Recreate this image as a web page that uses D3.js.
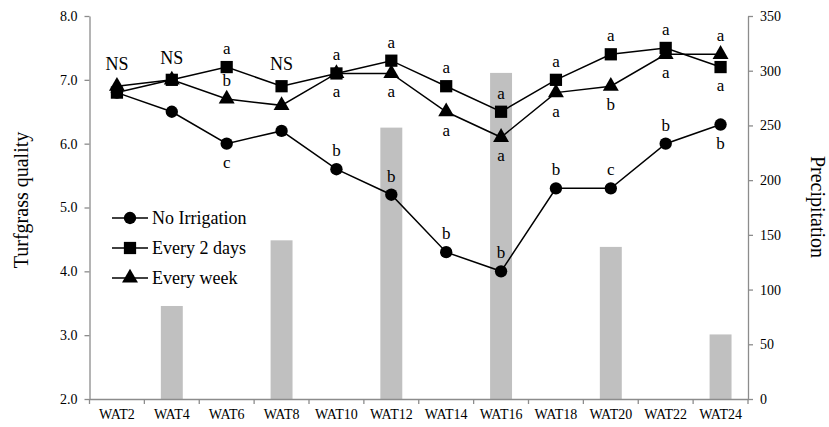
<!DOCTYPE html>
<html>
<head>
<meta charset="utf-8">
<script src="https://cdn.jsdelivr.net/npm/d3@7"></script>
<style>
body { margin: 0; background: #fff; }
svg { display: block; }
</style>
</head>
<body>
<svg id="chart" width="829" height="427" font-family="'Liberation Serif', 'Times New Roman', serif"></svg>
<script>
const categories = ["WAT2","WAT4","WAT6","WAT8","WAT10","WAT12","WAT14","WAT16","WAT18","WAT20","WAT22","WAT24"];
const noIrrigation = [6.8, 6.5, 6.0, 6.2, 5.6, 5.2, 4.3, 4.0, 5.3, 5.3, 6.0, 6.3];
const every2Days   = [6.8, 7.0, 7.2, 6.9, 7.1, 7.3, 6.9, 6.5, 7.0, 7.4, 7.5, 7.2];
const everyWeek    = [6.9, 7.0, 6.7, 6.6, 7.1, 7.1, 6.5, 6.1, 6.8, 6.9, 7.4, 7.4];
const precipitation = [0, 85, 0, 145, 0, 248, 0, 298, 0, 139, 0, 59];
const leftTicks = [2, 3, 4, 5, 6, 7, 8];
const rightTicks = [0, 50, 100, 150, 200, 250, 300, 350];
const seriesNames = ["No Irrigation", "Every 2 days", "Every week"];
// significance letters: [category, series index, letter, side]
const letters = [
  ["WAT2", 2, "NS", "above"], ["WAT4", 1, "NS", "above"], ["WAT8", 1, "NS", "above"],
  ["WAT6", 1, "a", "above"], ["WAT6", 2, "b", "above"], ["WAT6", 0, "c", "below"],
  ["WAT10", 1, "a", "above"], ["WAT10", 2, "a", "below"], ["WAT10", 0, "b", "above"],
  ["WAT12", 1, "a", "above"], ["WAT12", 2, "a", "below"], ["WAT12", 0, "b", "above"],
  ["WAT14", 1, "a", "above"], ["WAT14", 2, "a", "below"], ["WAT14", 0, "b", "above"],
  ["WAT16", 1, "a", "above"], ["WAT16", 2, "a", "below"], ["WAT16", 0, "b", "above"],
  ["WAT18", 1, "a", "above"], ["WAT18", 2, "a", "below"], ["WAT18", 0, "b", "above"],
  ["WAT20", 1, "a", "above"], ["WAT20", 2, "b", "below"], ["WAT20", 0, "c", "above"],
  ["WAT22", 1, "a", "above"], ["WAT22", 2, "a", "below"], ["WAT22", 0, "b", "above"],
  ["WAT24", 2, "a", "above"], ["WAT24", 1, "a", "below"], ["WAT24", 0, "b", "below"]
];

const FONT = "'Liberation Serif', 'Times New Roman', serif";
const series = [noIrrigation, every2Days, everyWeek];
const svg = d3.select("#chart");
const pLeft = 89.5, pRight = 748, pTop = 16, pBottom = 399;

const x = d3.scaleBand().domain(categories).range([pLeft, pRight]).paddingInner(0).paddingOuter(0);
const y = d3.scaleLinear().domain([2, 8]).range([pBottom, pTop]);
const y2 = d3.scaleLinear().domain([0, 350]).range([pBottom, pTop]);

// bars
svg.append("g").selectAll("rect")
  .data(categories.map((c, i) => ({c, v: precipitation[i]})).filter(d => d.v > 0))
  .join("rect")
  .attr("x", d => x(d.c) + x.bandwidth() * 0.3)
  .attr("width", x.bandwidth() * 0.4)
  .attr("y", d => y2(d.v))
  .attr("height", d => y2(0) - y2(d.v))
  .attr("fill", "#c0c0c0");

// axes
const axisColor = "#8c8c8c";
function styleAxis(g) {
  g.attr("font-family", FONT);
  g.selectAll(".domain").attr("stroke", axisColor).attr("stroke-width", 1.3);
  g.selectAll(".tick line").attr("stroke", axisColor).attr("stroke-width", 1.3);
  g.selectAll(".tick text").attr("fill", "#000").attr("font-size", 14);
}
const gl = svg.append("g").attr("transform", `translate(${pLeft},0)`)
  .call(d3.axisLeft(y).tickValues(leftTicks).tickFormat(d3.format(".1f")).tickSizeInner(5).tickSizeOuter(0).tickPadding(7));
styleAxis(gl);

const gr = svg.append("g").attr("transform", `translate(${pRight},0)`)
  .call(d3.axisRight(y2).tickValues(rightTicks).tickSizeInner(5).tickSizeOuter(0).tickPadding(7));
styleAxis(gr);

const gx = svg.append("g").attr("transform", `translate(0,${pBottom})`)
  .call(d3.axisBottom(x).tickSize(0).tickPadding(10));
styleAxis(gx);
// x ticks at band boundaries
gx.selectAll(".bound").data(categories.concat(["end"])).join("line")
  .attr("x1", (d, i) => pLeft + i * x.bandwidth()).attr("x2", (d, i) => pLeft + i * x.bandwidth())
  .attr("y1", 0).attr("y2", 5).attr("stroke", axisColor).attr("stroke-width", 1.3);

// axis titles
svg.append("text").attr("transform", "translate(28,200) rotate(-90)")
  .attr("text-anchor", "middle").attr("font-size", 20).text("Turfgrass quality");
svg.append("text").attr("transform", "translate(811,207) rotate(90)")
  .attr("text-anchor", "middle").attr("font-size", 20).text("Precipitation");

// lines
const line = d3.line().x((d, i) => x(categories[i]) + x.bandwidth() / 2).y(d => y(d));
const sym = [d3.symbolCircle, d3.symbolSquare, d3.symbolTriangle];
const symSize = [120, 150, 110];
series.forEach((s, k) => {
  svg.append("path").datum(s).attr("d", line).attr("fill", "none")
    .attr("stroke", "#000").attr("stroke-width", 1.5);
});
series.forEach((s, k) => {
  svg.append("g").selectAll("path").data(s).join("path")
    .attr("transform", (d, i) => `translate(${x(categories[i]) + x.bandwidth() / 2},${y(d)})`)
    .attr("d", d3.symbol(sym[k], symSize[k])).attr("fill", "#000");
});

// letters
svg.append("g").selectAll("text").data(letters).join("text")
  .attr("x", d => x(d[0]) + x.bandwidth() / 2)
  .attr("y", d => {
    const v = series[d[1]][categories.indexOf(d[0])];
    if (d[2] === "NS") return y(v) - 16;
    return d[3] === "above" ? y(v) - 13 : y(v) + 24;
  })
  .attr("text-anchor", "middle").attr("font-size", d => d[2] === "NS" ? 18 : 17)
  .text(d => d[2]);

// legend
const lg = svg.append("g");
seriesNames.forEach((n, k) => {
  const ly = 218 + k * 30;
  lg.append("line").attr("x1", 112).attr("x2", 148).attr("y1", ly).attr("y2", ly)
    .attr("stroke", "#000").attr("stroke-width", 1.5);
  lg.append("path").attr("transform", `translate(130,${ly})`)
    .attr("d", d3.symbol(sym[k], symSize[k])).attr("fill", "#000");
  lg.append("text").attr("x", 152).attr("y", ly + 6).attr("font-size", 18).text(n);
});

svg.selectAll("text").style("font-family", FONT).attr("fill", "#000");
</script>
</body>
</html>
